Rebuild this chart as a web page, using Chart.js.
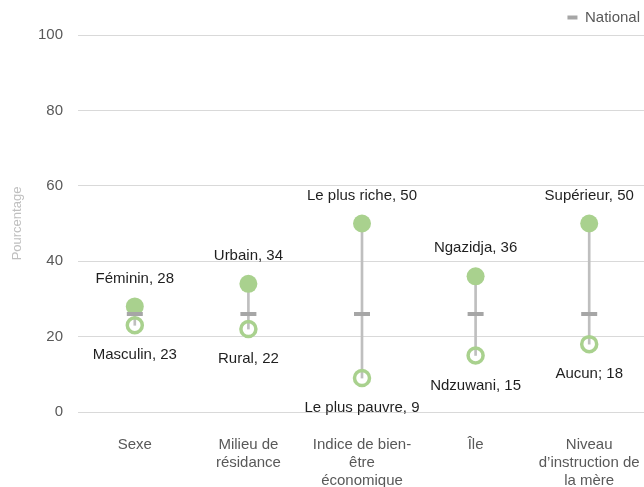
<!DOCTYPE html>
<html lang="fr">
<head>
  <meta charset="UTF-8">
  <title>Pourcentage par groupe</title>
  <style>
    html, body {
      margin: 0;
      padding: 0;
      background: #ffffff;
      overflow: hidden;
    }

    .chart-container {
      width: 646px;
      height: 487px;
    }
  </style>
</head>
<body>
  <div class="chart-container">
    <canvas id="graphique"></canvas>
  </div>

  <script src="https://cdn.jsdelivr.net/npm/chart.js"></script>
  <script>
    // Données
    const categories = [
      'Sexe',
      ['Milieu de', 'résidance'],
      ['Indice de bien-', 'être', 'économique'],
      'Île',
      ['Niveau', 'd\u2019instruction de', 'la mère']
    ];
    const valeursHautes = [28, 34, 50, 36, 50];
    const valeursBasses = [23, 22, 9, 15, 18];
    const etiquettesHautes = ['Féminin, 28', 'Urbain, 34', 'Le plus riche, 50', 'Ngazidja, 36', 'Supérieur, 50'];
    const etiquettesBasses = ['Masculin, 23', 'Rural, 22', 'Le plus pauvre, 9', 'Ndzuwani, 15', 'Aucun; 18'];
    const valeurNational = [26, 26, 26, 26, 26];
    const ticksY = [0, 20, 40, 60, 80, 100];

    const vert = '#a9d18e';
    const police = "'Liberation Sans', Arial, sans-serif";

    // Étiquettes des points (au-dessus pour les hauts, en dessous pour les bas)
    const etiquettesPlugin = {
      id: 'etiquettes',
      afterDatasetsDraw(chart) {
        const ctx = chart.ctx;
        ctx.save();
        ctx.font = '15px ' + police;
        ctx.fillStyle = '#1f1f1f';
        ctx.textAlign = 'center';
        ctx.textBaseline = 'middle';
        chart.getDatasetMeta(2).data.forEach((pt, i) => {
          ctx.fillText(etiquettesHautes[i], pt.x, pt.y - 28);
        });
        chart.getDatasetMeta(3).data.forEach((pt, i) => {
          ctx.fillText(etiquettesBasses[i], pt.x, pt.y + 30);
        });
        ctx.restore();
      }
    };

    const ctx = document.getElementById('graphique').getContext('2d');
    new Chart(ctx, {
      type: 'bar',
      data: {
        labels: categories,
        datasets: [
          {
            label: 'Écart',
            data: valeursBasses.map((v, i) => [v, valeursHautes[i]]),
            backgroundColor: '#bfbfbf',
            barThickness: 2,
            order: 4
          },
          {
            type: 'line',
            label: 'National',
            data: valeurNational,
            showLine: false,
            pointStyle: 'line',
            pointRadius: 8,
            pointHoverRadius: 8,
            pointBorderWidth: 4,
            borderWidth: 3,
            borderColor: '#a6a6a6',
            backgroundColor: '#a6a6a6',
            order: 1
          },
          {
            type: 'line',
            label: 'Haut',
            data: valeursHautes,
            showLine: false,
            pointRadius: 9,
            pointHoverRadius: 9,
            pointBorderWidth: 0,
            pointBackgroundColor: vert,
            borderColor: vert,
            order: 2
          },
          {
            type: 'line',
            label: 'Bas',
            data: valeursBasses,
            showLine: false,
            pointRadius: 7.5,
            pointHoverRadius: 7.5,
            pointBorderWidth: 3.5,
            pointBorderColor: vert,
            pointBackgroundColor: 'rgba(0,0,0,0)',
            borderColor: vert,
            order: 3
          }
        ]
      },
      options: {
        responsive: true,
        maintainAspectRatio: false,
        animation: false,
        layout: {
          autoPadding: false,
          padding: { top: 4, right: 0, bottom: 0, left: 0 }
        },
        plugins: {
          legend: {
            position: 'top',
            align: 'end',
            labels: {
              filter: item => item.text === 'National',
              usePointStyle: true,
              pointStyle: 'line',
              pointStyleWidth: 10,
              boxHeight: 8,
              color: '#595959',
              font: { family: police, size: 15 },
              padding: 6
            }
          },
          tooltip: { enabled: false }
        },
        scales: {
          x: {
            grid: { display: false, drawTicks: false },
            border: { display: false },
            ticks: {
              color: '#595959',
              font: { family: police, size: 15, lineHeight: 1.2 },
              padding: 24,
              maxRotation: 0,
              autoSkip: false
            },
            afterFit(scale) {
              scale.height = 75;
              scale.paddingLeft = 0;
              scale.paddingRight = 0;
            }
          },
          y: {
            min: 0,
            max: 100,
            afterBuildTicks(scale) { scale.ticks = ticksY.map(v => ({ value: v })); },
            grid: { color: '#d9d9d9', drawTicks: false },
            border: { display: false },
            ticks: {
              color: '#595959',
              font: { family: police, size: 15 },
              padding: 15
            },
            title: {
              display: true,
              text: 'Pourcentage',
              color: '#bfbfbf',
              font: { family: police, size: 13 },
              padding: { top: 10, bottom: 0 }
            },
            afterFit(scale) { scale.width = 78; }
          }
        }
      },
      plugins: [etiquettesPlugin]
    });
  </script>
</body>
</html>
